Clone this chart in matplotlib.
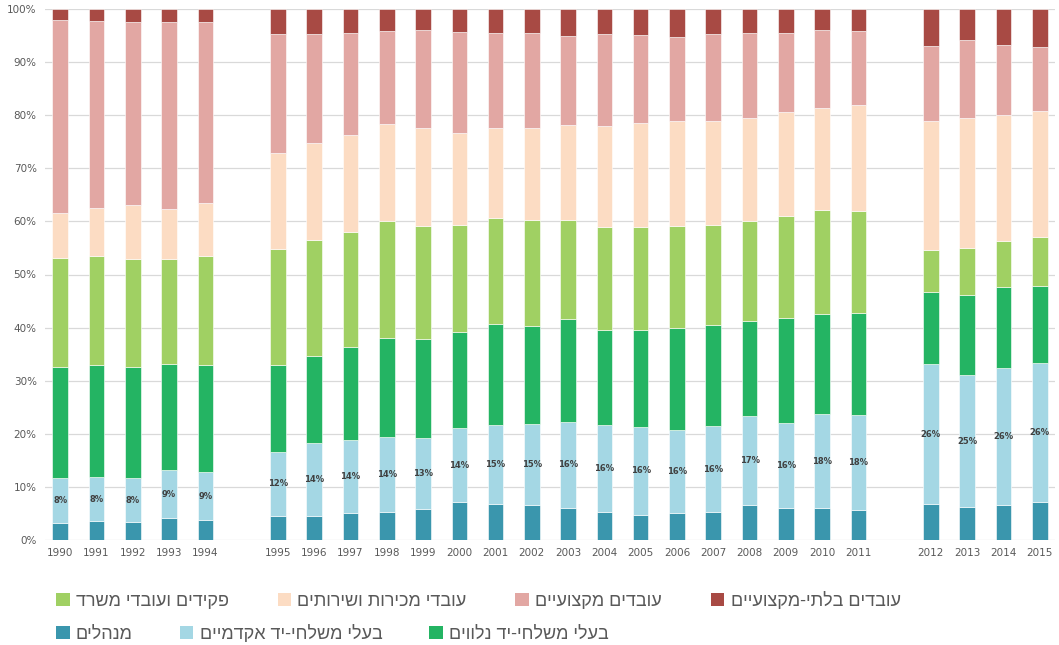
import matplotlib
matplotlib.use("Agg")
import matplotlib.pyplot as plt
from matplotlib.patches import Patch
from matplotlib.ticker import PercentFormatter
import numpy as np

years = ["1990", "1991", "1992", "1993", "1994",
         "1995", "1996", "1997", "1998", "1999", "2000", "2001", "2002", "2003",
         "2004", "2005", "2006", "2007", "2008", "2009", "2010", "2011",
         "2012", "2013", "2014", "2015"]
# group index of each year (gaps drawn between groups)
groups = [0] * 5 + [1] * 17 + [2] * 4

managers = [3.2, 3.5, 3.3, 4.1, 3.7,
            4.6, 4.6, 5.1, 5.3, 5.9, 7.1, 6.7, 6.5, 6.0, 5.3, 4.8, 5.0, 5.3, 6.5, 6.0, 6.0, 5.7,
            6.8, 6.2, 6.6, 7.1]
academic = [8.4, 8.4, 8.4, 9.1, 9.1,
            12.0, 13.6, 13.8, 14.1, 13.4, 14.0, 14.9, 15.3, 16.3, 16.3, 16.4, 15.8, 16.1, 16.8, 16.1, 17.7, 17.9,
            26.3, 24.8, 25.8, 26.2]
associated = [21.0, 21.1, 20.8, 20.0, 20.1,
              16.3, 16.5, 17.5, 18.6, 18.5, 18.1, 19.1, 18.5, 19.4, 18.0, 18.4, 19.1, 19.0, 18.0, 19.7, 18.9, 19.1,
              13.6, 15.2, 15.3, 14.6]
clerks = [20.5, 20.4, 20.5, 19.8, 20.5,
          21.9, 21.8, 21.6, 22.1, 21.3, 20.1, 20.0, 20.0, 18.6, 19.4, 19.4, 19.3, 18.9, 18.8, 19.2, 19.6, 19.3,
          7.9, 8.8, 8.6, 9.2]
sales = [8.4, 9.2, 10.1, 9.4, 10.1,
         18.0, 18.2, 18.3, 18.3, 18.5, 17.3, 16.9, 17.3, 17.9, 19.0, 19.5, 19.8, 19.7, 19.3, 19.6, 19.1, 19.9,
         24.3, 24.5, 23.7, 23.6]
skilled = [36.5, 35.2, 34.5, 35.2, 34.1,
           22.5, 20.6, 19.1, 17.4, 18.4, 19.0, 17.9, 17.8, 16.7, 17.3, 16.6, 15.7, 16.3, 16.1, 14.8, 14.7, 13.9,
           14.2, 14.7, 13.3, 12.2]
unskilled = [2.0, 2.2, 2.4, 2.4, 2.4,
             4.7, 4.7, 4.6, 4.2, 4.0, 4.4, 4.5, 4.6, 5.1, 4.7, 4.9, 5.3, 4.7, 4.5, 4.6, 4.0, 4.2,
             6.9, 5.8, 6.7, 7.1]

series_names = ["מנהלים", "בעלי משלחי-יד אקדמיים", "בעלי משלחי-יד נלווים",
                "פקידים ועובדי משרד", "עובדי מכירות ושירותים", "עובדים מקצועיים",
                "עובדים בלתי-מקצועיים"]
series_values = [managers, academic, associated, clerks, sales, skilled, unskilled]
colors = ["#3A96AD", "#A4D7E4", "#24B463", "#A0D063", "#FCDCC3", "#E2A7A3", "#A84A44"]


def rtl(s):
    # matplotlib lays text out left-to-right; reverse to get the visual RTL order
    return s[::-1]


HEB = ["Liberation Sans", "DejaVu Sans"]

fig = plt.figure(figsize=(10.59, 6.45), dpi=100)
ax = fig.add_axes([45 / 1059, 1 - 540 / 645, 1010 / 1059, 531 / 645])

x = np.arange(len(years)) + np.array(groups)
data = np.array(series_values, dtype=float)
totals = data.sum(axis=0)
pct = data / totals * 100

bottom = np.zeros(len(years))
for vals, col in zip(pct, colors):
    ax.bar(x, vals, bottom=bottom, width=0.43, color=col, edgecolor="white",
           linewidth=0.4, zorder=3)
    bottom += vals

# data labels on academic segment
for xi, b, v in zip(x, pct[0], pct[1]):
    ax.text(xi, b + v / 2, f"{round(v):.0f}%", ha="center", va="center",
            fontsize=6, fontweight="bold", color="#404040", zorder=4)

ax.set_ylim(0, 100)
ax.set_xlim(x[0] - 0.42, x[-1] + 0.42)
ax.set_yticks(np.arange(0, 101, 10))
ax.yaxis.set_major_formatter(PercentFormatter(decimals=0))
ax.set_xticks(x)
ax.set_xticklabels(years)
ax.tick_params(axis="both", length=0, labelsize=7.5, labelcolor="#595959")
ax.tick_params(axis="x", pad=6)
ax.tick_params(axis="y", pad=6)
ax.grid(axis="y", color="#D9D9D9", linewidth=0.9, zorder=0)
for sp in ax.spines.values():
    sp.set_visible(False)

handles = [Patch(facecolor=c, edgecolor="none") for c in colors]
row1 = [3, 4, 5, 6]
row2 = [0, 1, 2]
leg_kw = dict(frameon=False, handlelength=0.75, handleheight=0.75, handletextpad=0.35,
              prop={"family": HEB, "size": 13}, labelcolor="#595959",
              borderaxespad=0, borderpad=0, loc="upper left")
leg1 = fig.legend([handles[i] for i in row1], [rtl(series_names[i]) for i in row1],
                  ncol=4, columnspacing=2.7, bbox_to_anchor=(56 / 1059, 1 - 592 / 645), **leg_kw)
leg2 = fig.legend([handles[i] for i in row2], [rtl(series_names[i]) for i in row2],
                  ncol=3, columnspacing=2.6, bbox_to_anchor=(56 / 1059, 1 - 625 / 645), **leg_kw)

fig.savefig("out.png", dpi=100)
